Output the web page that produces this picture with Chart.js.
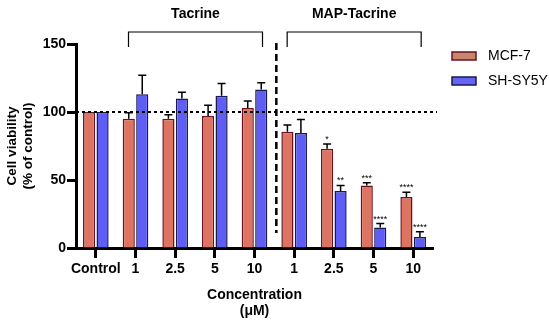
<!DOCTYPE html>
<html>
<head>
<meta charset="utf-8">
<script src="https://cdn.jsdelivr.net/npm/chart.js@4.4.1/dist/chart.umd.min.js"></script>
<style>
  html, body { margin: 0; padding: 0; background: #fff; }
  #wrap { width: 550px; height: 320px; }
</style>
</head>
<body>
<div id="wrap"><canvas id="viability"></canvas></div>
<script>
var categories = ['Control', '1', '2.5', '5', '10', '1', '2.5', '5', '10'];
var mcf7 = [100, 95, 95, 97, 103, 85.5, 73, 46, 37.5];
var mcf7Err = [0, 4.5, 3, 8, 5, 5, 3.5, 2, 3.5];
var mcf7Sig = ['', '', '', '', '', '', '*', '***', '****'];
var shsy5y = [100, 113, 110, 112, 116.5, 84.5, 42, 15, 8];
var shsy5yErr = [0, 14, 4.5, 9, 5, 10, 4, 3, 4];
var shsy5ySig = ['', '', '', '', '', '', '**', '****', '****'];
var yTicks = [0, 50, 100, 150];
var groups = [
  { label: 'Tacrine', from: 1, to: 4 },
  { label: 'MAP-Tacrine', from: 5, to: 8 }
];

var FONT = '"Liberation Sans", Arial, Helvetica, sans-serif';
Chart.defaults.font.family = FONT;
Chart.defaults.color = '#000';

// error bars (upper only) + significance stars
var errorBars = {
  id: 'errorBars',
  afterDatasetsDraw: function(chart) {
    var ctx = chart.ctx, y = chart.scales.y;
    chart.data.datasets.forEach(function(ds, i) {
      var meta = chart.getDatasetMeta(i);
      meta.data.forEach(function(bar, j) {
        var err = ds.errors[j];
        var top = y.getPixelForValue(ds.data[j] + err);
        ctx.save();
        if (err > 0) {
          ctx.strokeStyle = '#000';
          ctx.lineWidth = 1.5;
          ctx.beginPath();
          ctx.moveTo(bar.x, bar.y);
          ctx.lineTo(bar.x, top);
          ctx.moveTo(bar.x - 4, top);
          ctx.lineTo(bar.x + 4, top);
          ctx.stroke();
        }
        if (ds.sig[j]) {
          ctx.fillStyle = '#000';
          ctx.font = '9px ' + FONT;
          ctx.textAlign = 'center';
          ctx.textBaseline = 'alphabetic';
          ctx.fillText(ds.sig[j], bar.x, top - 2);
        }
        ctx.restore();
      });
    });
  }
};

// reference line, divider, group brackets, legend
var annotations = {
  id: 'annotations',
  afterDraw: function(chart) {
    var ctx = chart.ctx, x = chart.scales.x, y = chart.scales.y, area = chart.chartArea;
    ctx.save();
    ctx.strokeStyle = '#000';

    // 100% line
    ctx.lineWidth = 2;
    ctx.setLineDash([3, 3]);
    ctx.beginPath();
    ctx.moveTo(area.left, y.getPixelForValue(100));
    ctx.lineTo(area.right + 4, y.getPixelForValue(100));
    ctx.stroke();

    // divider between the two drugs
    var xd = (x.getPixelForValue(4) + x.getPixelForValue(5)) / 2 + 2;
    ctx.lineWidth = 2.5;
    ctx.setLineDash([7, 4]);
    ctx.beginPath();
    ctx.moveTo(xd, area.top - 1);
    ctx.lineTo(xd, y.getPixelForValue(11));
    ctx.stroke();
    ctx.setLineDash([]);

    // brackets
    ctx.lineWidth = 1.2;
    ctx.fillStyle = '#000';
    ctx.font = 'bold 14px ' + FONT;
    ctx.textAlign = 'center';
    ctx.textBaseline = 'middle';
    groups.forEach(function(g) {
      var x0 = x.getPixelForValue(g.from) - 7;
      var x1 = x.getPixelForValue(g.to) + 8;
      ctx.beginPath();
      ctx.moveTo(x0, area.top + 3);
      ctx.lineTo(x0, 32);
      ctx.lineTo(x1, 32);
      ctx.lineTo(x1, area.top + 3);
      ctx.stroke();
      ctx.fillText(g.label, (x0 + x1) / 2, 14);
    });

    // legend
    ctx.font = '14px ' + FONT;
    ctx.textAlign = 'left';
    chart.data.datasets.forEach(function(ds, i) {
      var by = 52 + i * 25;
      ctx.fillStyle = ds.legendColor;
      ctx.fillRect(452, by, 24, 8);
      ctx.strokeStyle = ds.borderColor;
      ctx.lineWidth = 1.5;
      ctx.strokeRect(452, by, 24, 8);
      ctx.fillStyle = '#000';
      ctx.fillText(ds.label, 488, by + 4);
    });
    ctx.restore();
  }
};

var ctx = document.getElementById('viability').getContext('2d');
var chart = new Chart(ctx, {
  type: 'bar',
  data: {
    labels: categories,
    datasets: [{
      label: 'MCF-7',
      data: mcf7,
      errors: mcf7Err,
      sig: mcf7Sig,
      backgroundColor: '#DD7462',
      legendColor: '#C8866E',
      borderColor: '#6B1020',
      borderWidth: 1.5
    }, {
      label: 'SH-SY5Y',
      data: shsy5y,
      errors: shsy5yErr,
      sig: shsy5ySig,
      backgroundColor: '#5E5EF7',
      legendColor: '#6464F5',
      borderColor: '#1A1A4E',
      borderWidth: 1.5
    }]
  },
  options: {
    responsive: true,
    maintainAspectRatio: false,
    animation: false,
    devicePixelRatio: 1,
    categoryPercentage: 0.68,
    barPercentage: 0.9,
    layout: { padding: { top: 44, right: 117, left: 0, bottom: 0 } },
    plugins: {
      legend: { display: false },
      tooltip: { enabled: false }
    },
    scales: {
      x: {
        offset: true,
        ticks: { font: { size: 14, weight: 'bold' }, color: '#000', padding: 3, maxRotation: 0, autoSkip: false },
        grid: { offset: false, drawOnChartArea: false, drawTicks: true, tickLength: 10, tickWidth: 3, tickColor: '#000' },
        border: { display: true, width: 3, color: '#000' },
        title: { display: true, text: ['Concentration', '(\u03bcM)'], font: { size: 14, weight: 'bold' }, color: '#000', padding: 0 },
        afterFit: function(s) { s.height = 72; }
      },
      y: {
        min: 0,
        max: 150,
        afterBuildTicks: function(s) { s.ticks = yTicks.map(function(v) { return { value: v }; }); },
        ticks: { font: { size: 14, weight: 'bold' }, color: '#000', padding: 1 },
        grid: { drawOnChartArea: false, drawTicks: true, tickLength: 9, tickWidth: 3, tickColor: '#000' },
        border: { display: true, width: 3, color: '#000' },
        title: { display: true, text: ['Cell viability', '(% of control)'], font: { size: 13.5, weight: 'bold' }, color: '#000', padding: { top: 4, bottom: 0 } },
        afterFit: function(s) { s.width = 76; }
      }
    }
  },
  plugins: [errorBars, annotations]
});
</script>
</body>
</html>
